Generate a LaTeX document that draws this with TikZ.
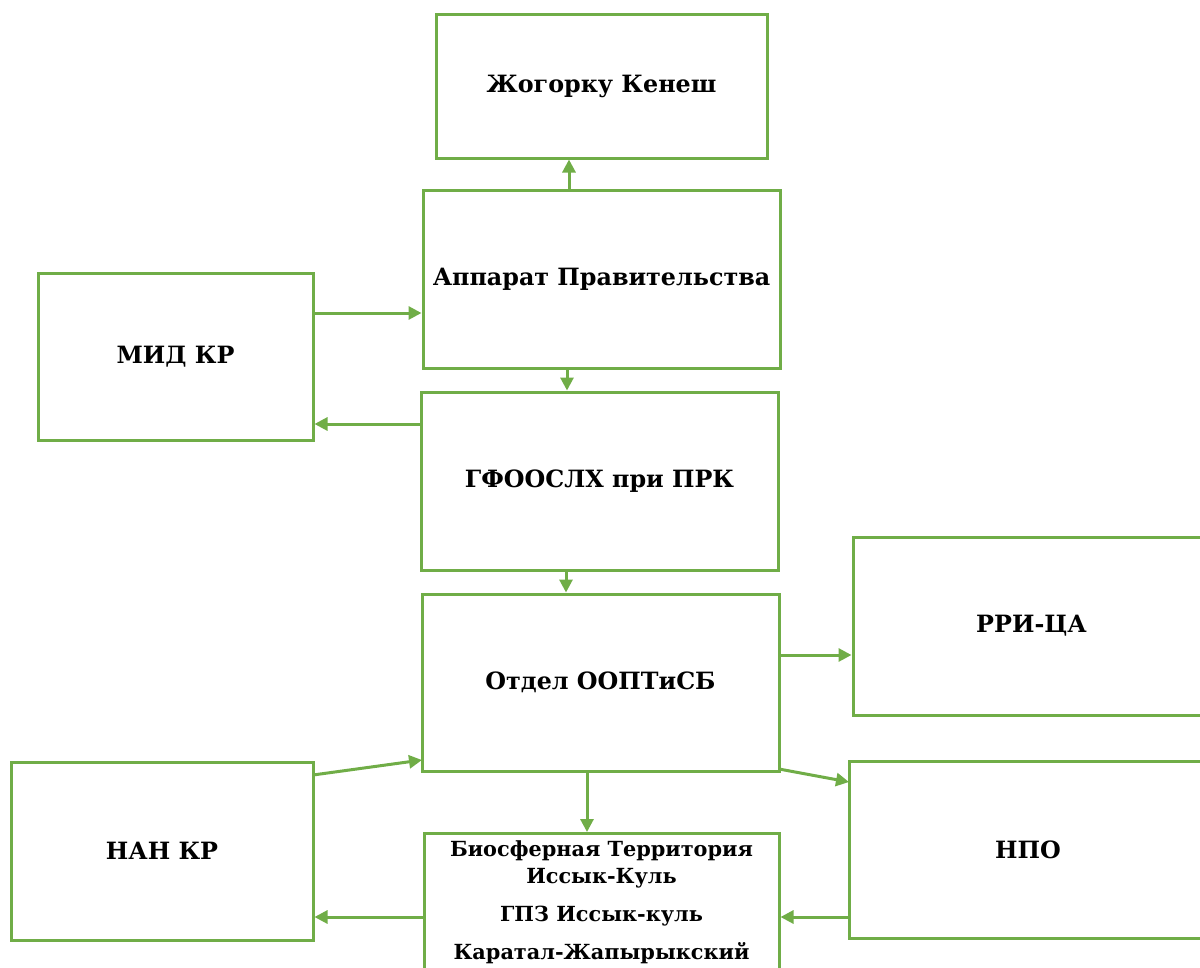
\documentclass[tikz,border=0pt]{standalone}
\usepackage{fontspec}
\setmainfont{DejaVu Serif}
\usetikzlibrary{arrows.meta}
\definecolor{grn}{HTML}{70AD47}
\tikzset{
  box/.style={draw=grn, line width=3pt, fill=white, inner sep=0pt, font=\fontsize{23.8}{28}\selectfont\bfseries, align=center},
  txt/.style={inner sep=0pt, font=\fontsize{20.8}{27}\selectfont\bfseries, align=center},
  arr/.style={draw=grn, line width=3pt, -{Triangle[length=13pt,width=13pt]}}
}
\begin{document}
\begin{tikzpicture}[x=1pt,y=-1pt]
\useasboundingbox (0,0) rectangle (1200,967);
\node[box, minimum width=331pt, minimum height=144pt] (zk) at (601.5,86) {Жогорку Кенеш};
\node[box, minimum width=357pt, minimum height=178pt] (ap) at (601.5,279) {Аппарат Правительства};
\node[box, minimum width=275pt, minimum height=167pt] (mid) at (175.5,356.5) {МИД КР};
\node[box, minimum width=357pt, minimum height=178pt] (gf) at (599.5,481) {ГФООСЛХ при ПРК};
\node[box, minimum width=357pt, minimum height=177pt] (ot) at (600.5,682.5) {Отдел ООПТиСБ};
\node[box, minimum width=357pt, minimum height=178pt] (rri) at (1031.5,626) {РРИ-ЦА};
\node[box, minimum width=302pt, minimum height=178pt] (nan) at (162,851) {НАН КР};
\node[box, minimum width=358pt, minimum height=177pt] (npo) at (1028,849.5) {НПО};
\node[box, minimum width=355pt, minimum height=190pt, anchor=north] (bio) at (601.5,832) {};
\node[txt, anchor=north] (biotxt) at (601.5,840) {Биосферная Территория\\Иссык-Куль\\[11pt]ГПЗ Иссык-куль\\[11pt]Каратал-Жапырыкский};
% connectors
\draw[arr] (ap.north -| 569,0) -- (zk.south -| 569,0);
\draw[arr] (mid.east |- 0,313) -- (ap.west |- 0,313);
\draw[arr] (gf.west |- 0,424) -- (mid.east |- 0,424);
\draw[arr] (ap.south -| 567,0) -- (gf.north -| 567,0);
\draw[arr] (gf.south -| 566,0) -- (ot.north -| 566,0);
\draw[arr] (ot.east |- 0,655) -- (rri.west |- 0,655);
\coordinate (nanout) at (313,775);
\coordinate (otin) at (422,760);
\draw[arr] (nanout) -- (otin);
\coordinate (otout) at (779,769);
\coordinate (npoin) at (849,782);
\draw[arr] (otout) -- (npoin);
\draw[arr] (ot.south -| 587,0) -- (bio.north -| 587,0);
\draw[arr] (bio.west |- 0,917) -- (nan.east |- 0,917);
\draw[arr] (npo.west |- 0,917) -- (bio.east |- 0,917);
\end{tikzpicture}
\end{document}
